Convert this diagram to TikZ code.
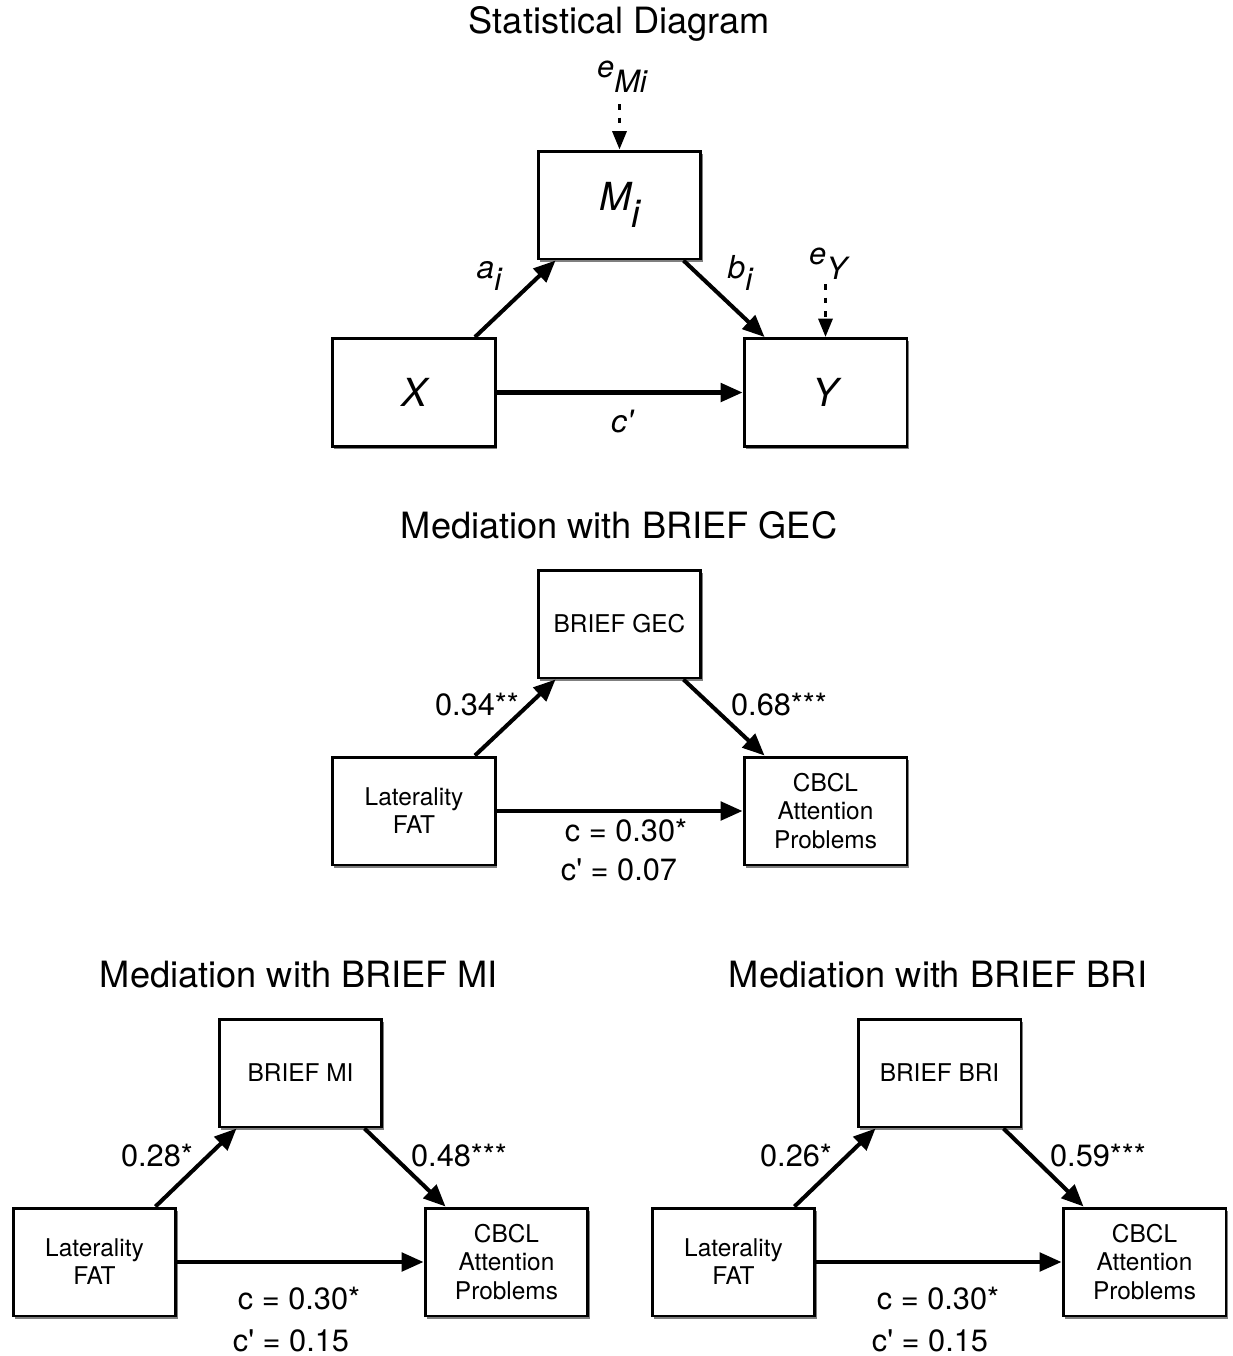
\documentclass[tikz,border=0pt]{standalone}
\usepackage{fontspec}
\setmainfont{TeX Gyre Heros}
\usetikzlibrary{arrows.meta,positioning,calc,shadows}

\tikzset{
  varbox/.style={draw=black, line width=1.7pt, fill=white, minimum width=3.26cm,
    minimum height=2.16cm, inner sep=0pt, align=center,
    font=\fontsize{13.9}{16}\selectfont,
    drop shadow={shadow xshift=1pt, shadow yshift=-1.6pt, fill=black, opacity=0.5}},
  statbox/.style={varbox, font=\fontsize{22}{26}\selectfont\itshape},
  paneltitle/.style={anchor=base, inner sep=0pt, font=\fontsize{20.6}{24}\selectfont},
  pathlbl/.style={anchor=base, inner sep=0pt, font=\fontsize{17.5}{20}\selectfont},
  statlbl/.style={anchor=base, inner sep=0pt, font=\fontsize{18}{21}\selectfont\itshape},
  errlbl/.style={anchor=base, inner sep=0pt, font=\fontsize{17.5}{20}\selectfont\itshape},
  effect/.style={-{Triangle[length=12.5pt,width=10.5pt]}, line width=2.3pt},
  errarrow/.style={-{Triangle[length=10.5pt,width=8pt]}, line width=1.8pt,
    dash pattern=on 3.2pt off 4.6pt}
}
\newcommand{\lowsub}[2][0.45em]{\raisebox{-#1}{#2}}

\begin{document}
\begin{tikzpicture}[x=0.02cm, y=-0.02cm]
  \useasboundingbox (0,0) rectangle (1233,1356);

  % Statistical diagram
  \node[paneltitle] (ttlstat) at (619.5,33) {Statistical Diagram};
  \node[statbox] (statx) at (414,392.5) {X};
  \node[statbox] (statm) at (619.5,205) {M\lowsub{i}};
  \node[statbox] (staty) at (825.5,392.5) {Y};
  \node[errlbl] (errm) at (622,77) {e\lowsub[0.5em]{Mi}};
  \node[errlbl] (erry) at (828,264) {e\lowsub[0.5em]{Y}};
  \coordinate (errmtail) at (619.5,104);
  \coordinate (errytail) at (825.5,284);
  \draw[errarrow] (errmtail) -- (statm.north);
  \draw[errarrow] (errytail) -- (staty.north);
  \draw[effect] ($(statx.north east)+(-22,0)$) -- ($(statm.south west)+(19,0)$);
  \draw[effect] ($(statm.south east)+(-19,0)$) -- ($(staty.north west)+(22,0)$);
  \draw[effect] (statx.east) -- (staty.west);
  \node[statlbl] (lbla) at (489,278) {a\lowsub[0.4em]{i}};
  \node[statlbl] (lblb) at (740,278) {b\lowsub[0.4em]{i}};
  \node[statlbl] (lblc) at (622,432) {c\textquotesingle};

  % Mediation with BRIEF GEC
  \node[paneltitle] (ttlgec) at (619,538) {Mediation with BRIEF GEC};
  \node[varbox] (gecx) at (414,811) {Laterality\\FAT};
  \node[varbox] (gecm) at (619.5,624) {BRIEF GEC};
  \node[varbox] (gecy) at (825.5,811) {CBCL\\Attention\\Problems};
  \draw[effect] ($(gecx.north east)+(-22,0)$) -- ($(gecm.south west)+(19,0)$);
  \draw[effect] ($(gecm.south east)+(-19,0)$) -- ($(gecy.north west)+(22,0)$);
  \draw[effect] (gecx.east) -- (gecy.west);
  \node[pathlbl] (geca) at (477,715) {0.34**};
  \node[pathlbl] (gecb) at (779,715) {0.68***};
  \node[pathlbl] (gecc) at (626,841) {c = 0.30*};
  \node[pathlbl] (geccp) at (619,880) {c\textquotesingle{} = 0.07};

  % Mediation with BRIEF MI
  \node[paneltitle] (ttlmi) at (299,987) {Mediation with BRIEF MI};
  \node[varbox] (mix) at (94.5,1262) {Laterality\\FAT};
  \node[varbox] (mim) at (300.5,1073) {BRIEF MI};
  \node[varbox] (miy) at (506.5,1262) {CBCL\\Attention\\Problems};
  \draw[effect] ($(mix.north east)+(-22,0)$) -- ($(mim.south west)+(19,0)$);
  \draw[effect] ($(mim.south east)+(-19,0)$) -- ($(miy.north west)+(22,0)$);
  \draw[effect] (mix.east) -- (miy.west);
  \node[pathlbl] (mia) at (157,1166) {0.28*};
  \node[pathlbl] (mib) at (459,1166) {0.48***};
  \node[pathlbl] (mic) at (299,1309) {c = 0.30*};
  \node[pathlbl] (micp) at (291,1351) {c\textquotesingle{} = 0.15};

  % Mediation with BRIEF BRI
  \node[paneltitle] (ttlbri) at (938,987) {Mediation with BRIEF BRI};
  \node[varbox] (brix) at (733.5,1262) {Laterality\\FAT};
  \node[varbox] (brim) at (939.5,1073) {BRIEF BRI};
  \node[varbox] (briy) at (1144.5,1262) {CBCL\\Attention\\Problems};
  \draw[effect] ($(brix.north east)+(-22,0)$) -- ($(brim.south west)+(19,0)$);
  \draw[effect] ($(brim.south east)+(-19,0)$) -- ($(briy.north west)+(22,0)$);
  \draw[effect] (brix.east) -- (briy.west);
  \node[pathlbl] (bria) at (796,1166) {0.26*};
  \node[pathlbl] (brib) at (1098,1166) {0.59***};
  \node[pathlbl] (bric) at (938,1309) {c = 0.30*};
  \node[pathlbl] (bricp) at (930,1351) {c\textquotesingle{} = 0.15};
\end{tikzpicture}
\end{document}
